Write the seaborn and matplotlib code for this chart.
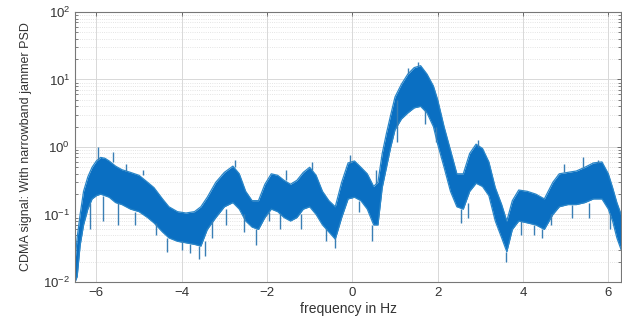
import pandas as pd
import matplotlib
matplotlib.use("Agg")
import matplotlib.pyplot as plt
import matplotlib.ticker as mticker
import seaborn as sns

# Envelope of the noisy PSD trace
freq = [-6.50, -6.45, -6.38, -6.30, -6.20, -6.10, -6.00, -5.90, -5.80, -5.70,
        -5.55, -5.40, -5.20, -5.00, -4.80, -4.65, -4.45, -4.30, -4.10, -3.90,
        -3.70, -3.55, -3.40, -3.20, -3.00, -2.80, -2.65, -2.50, -2.35, -2.20,
        -2.05, -1.90, -1.75, -1.60, -1.45, -1.30, -1.15, -1.00, -0.85, -0.70,
        -0.55, -0.40, -0.25, -0.10, 0.05, 0.20, 0.35, 0.50, 0.60, 0.70,
        0.80, 0.90, 1.00, 1.15, 1.30, 1.45, 1.60, 1.75, 1.90, 2.00,
        2.15, 2.30, 2.45, 2.60, 2.75, 2.90, 3.05, 3.20, 3.35, 3.50,
        3.62, 3.75, 3.90, 4.10, 4.30, 4.50, 4.70, 4.85, 5.05, 5.25,
        5.45, 5.65, 5.85, 6.00, 6.10, 6.20, 6.30]
psd_hi = [0.02, 0.045, 0.10, 0.22, 0.36, 0.50, 0.62, 0.70, 0.68, 0.62,
          0.52, 0.46, 0.42, 0.38, 0.30, 0.25, 0.17, 0.13, 0.11, 0.105,
          0.11, 0.13, 0.18, 0.30, 0.42, 0.52, 0.40, 0.22, 0.16, 0.16,
          0.28, 0.40, 0.38, 0.32, 0.28, 0.32, 0.42, 0.50, 0.38, 0.22,
          0.16, 0.13, 0.30, 0.58, 0.62, 0.50, 0.40, 0.26, 0.30, 0.80,
          1.6, 3.0, 5.5, 8.5, 12.0, 15.0, 16.0, 12.0, 8.0, 5.0,
          2.0, 0.9, 0.40, 0.40, 0.80, 1.1, 0.95, 0.60, 0.25, 0.14,
          0.08, 0.16, 0.23, 0.22, 0.20, 0.17, 0.30, 0.40, 0.42, 0.44,
          0.50, 0.58, 0.60, 0.40, 0.25, 0.15, 0.10]
psd_lo = [0.01, 0.012, 0.035, 0.07, 0.12, 0.17, 0.19, 0.20, 0.19, 0.18,
          0.15, 0.14, 0.12, 0.11, 0.09, 0.075, 0.055, 0.045, 0.040, 0.038,
          0.036, 0.034, 0.06, 0.09, 0.13, 0.15, 0.12, 0.08, 0.065, 0.06,
          0.09, 0.12, 0.11, 0.09, 0.08, 0.09, 0.12, 0.13, 0.10, 0.07,
          0.055, 0.043, 0.09, 0.17, 0.18, 0.16, 0.12, 0.07, 0.07, 0.25,
          0.5, 1.0, 1.8, 2.6, 3.2, 3.8, 4.0, 3.2, 2.0, 1.1,
          0.5, 0.22, 0.13, 0.12, 0.22, 0.29, 0.26, 0.19, 0.08, 0.045,
          0.028, 0.06, 0.08, 0.075, 0.07, 0.06, 0.10, 0.13, 0.14, 0.14,
          0.15, 0.17, 0.17, 0.12, 0.08, 0.045, 0.03]

# Isolated spikes sticking out of the band: (frequency, tip, base)
spike_f = [-6.15, -5.95, -5.85, -5.60, -5.50, -5.30, -5.10, -4.90, -4.60, -4.35,
           -4.00, -3.80, -3.60, -3.45, -3.30, -2.95, -2.75, -2.55, -2.25, -1.95,
           -1.70, -1.55, -1.20, -0.95, -0.62, -0.40, -0.05, 0.15, 0.45, 0.55,
           1.05, 1.30, 1.55, 1.70, 1.95, 2.55, 2.70, 2.95, 3.60, 3.95,
           4.25, 4.45, 4.65, 4.95, 5.15, 5.40, 5.55, 5.75, 6.05]
spike_tip = [0.06, 1.0, 0.08, 0.85, 0.07, 0.55, 0.07, 0.45, 0.05, 0.028,
             0.03, 0.027, 0.022, 0.024, 0.045, 0.07, 0.65, 0.055, 0.035, 0.08,
             0.06, 0.45, 0.06, 0.6, 0.04, 0.032, 0.75, 0.11, 0.04, 0.45,
             1.2, 15.0, 18.0, 2.2, 1.2, 0.075, 0.09, 1.25, 0.02, 0.05,
             0.05, 0.045, 0.07, 0.55, 0.09, 0.7, 0.09, 0.65, 0.06]
spike_base = [0.15, 0.65, 0.19, 0.6, 0.15, 0.44, 0.11, 0.38, 0.075, 0.045,
              0.04, 0.036, 0.034, 0.04, 0.08, 0.12, 0.5, 0.1, 0.06, 0.11,
              0.1, 0.32, 0.1, 0.45, 0.06, 0.045, 0.58, 0.16, 0.07, 0.28,
              5.0, 12.0, 16.0, 3.5, 2.0, 0.12, 0.15, 1.0, 0.028, 0.08,
              0.07, 0.06, 0.1, 0.42, 0.14, 0.48, 0.15, 0.58, 0.1]

df = pd.DataFrame({"freq": freq, "hi": psd_hi, "lo": psd_lo})

sns.set_style("white")
plt.rcParams["font.family"] = ["Liberation Sans", "DejaVu Sans"]

blue = "#0a6fc2"
fig = plt.figure(figsize=(6.22, 3.2), dpi=100)
ax = fig.add_axes([0.1206, 0.119, 0.878, 0.8435])

ax.fill_between(df["freq"], df["lo"], df["hi"], color=blue, linewidth=0)
sns.lineplot(data=df, x="freq", y="hi", ax=ax, color="#2a86c8", linewidth=0.9)
sns.lineplot(data=df, x="freq", y="lo", ax=ax, color="#2a86c8", linewidth=0.9)
ax.vlines(spike_f, spike_base, spike_tip, color="#3a7fb5", linewidth=1.0)

ax.set_yscale("log")
ax.set_xlim(-6.5, 6.3)
ax.set_ylim(1e-2, 1e2)
ax.set_xticks([-6, -4, -2, 0, 2, 4, 6])
ax.yaxis.set_major_locator(mticker.LogLocator(base=10, numticks=10))
ax.yaxis.set_minor_locator(mticker.LogLocator(base=10, subs=range(2, 10), numticks=20))

ax.grid(True, which="major", color="#d8d8d8", linewidth=0.7)
ax.grid(True, which="minor", axis="y", color="#dcdcdc", linewidth=0.6, linestyle=":")
ax.set_axisbelow(True)

ax.tick_params(direction="in", length=3, width=0.6, colors="#555555",
               labelsize=9.5, labelcolor="#333333", top=True, right=True)
ax.tick_params(which="minor", direction="in", length=2, width=0.4, left=True, right=True)
for s in ax.spines.values():
    s.set_color("#777777")
    s.set_linewidth(0.8)

ax.set_xlabel("frequency in Hz", fontsize=10, color="#333333", labelpad=2)
ax.set_ylabel("CDMA signal: With narrowband jammer PSD", fontsize=9, color="#333333", labelpad=8)

fig.savefig("out.png", dpi=100)
